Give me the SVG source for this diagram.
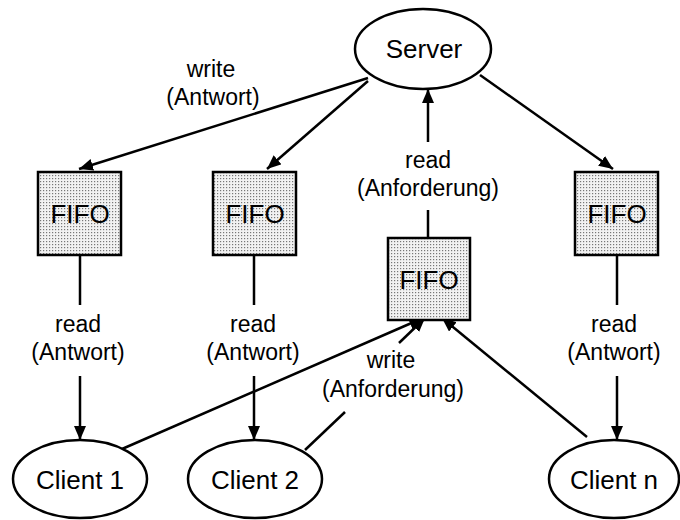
<svg xmlns="http://www.w3.org/2000/svg" width="680" height="520" viewBox="0 0 680 520">
<style>
.node{fill:#fff;stroke:#000;stroke-width:2.5}
.fifo{fill:url(#dots);stroke:#000;stroke-width:2.5}
.ntext{font-family:"Liberation Sans",Arial,sans-serif;font-size:26px;fill:#000;text-anchor:middle}
.lbl{font-family:"Liberation Sans",Arial,sans-serif;font-size:23px;fill:#000;text-anchor:middle}
.edge{fill:none;stroke:#000;stroke-width:2.5}
</style>
<defs>
<pattern id="dots" width="3" height="3" patternUnits="userSpaceOnUse">
<rect width="3" height="3" fill="#f2f2f2"/>
<rect x="1" y="1" width="1.2" height="1.2" fill="#777"/>
</pattern>
<marker id="arr" viewBox="0 0 14 12" refX="14" refY="6" markerWidth="14" markerHeight="12" markerUnits="userSpaceOnUse" orient="auto">
<path d="M0,0 L14,6 L0,12 Z" fill="#000"/>
</marker>
</defs>
<g id="connectors">
<line class="edge" x1="368" y1="78" x2="79" y2="169" marker-end="url(#arr)"/>
<line class="edge" x1="368" y1="81" x2="267" y2="169" marker-end="url(#arr)"/>
<line class="edge" x1="480" y1="75" x2="613" y2="169" marker-end="url(#arr)"/>
<line class="edge" x1="428" y1="238" x2="428" y2="210"/>
<line class="edge" x1="428" y1="142" x2="428" y2="89" marker-end="url(#arr)"/>
<line class="edge" x1="80" y1="255" x2="80" y2="305"/>
<line class="edge" x1="80" y1="376" x2="80" y2="440" marker-end="url(#arr)"/>
<line class="edge" x1="254" y1="255" x2="254" y2="305"/>
<line class="edge" x1="254" y1="376" x2="254" y2="440" marker-end="url(#arr)"/>
<line class="edge" x1="617" y1="255" x2="617" y2="305"/>
<line class="edge" x1="617" y1="376" x2="617" y2="440" marker-end="url(#arr)"/>
<line class="edge" x1="122" y1="449" x2="423" y2="318" marker-end="url(#arr)"/>
<line class="edge" x1="305" y1="450" x2="345" y2="412"/>
<line class="edge" x1="399" y1="343" x2="425" y2="318" marker-end="url(#arr)"/>
<line class="edge" x1="587" y1="437" x2="442" y2="318" marker-end="url(#arr)"/>
</g>
<g id="labels">
<text class="lbl" x="211" y="77">write</text>
<text class="lbl" x="213" y="105">(Antwort)</text>
<text class="lbl" x="428" y="168">read</text>
<text class="lbl" x="428" y="196">(Anforderung)</text>
<text class="lbl" x="78" y="332">read</text>
<text class="lbl" x="78" y="360">(Antwort)</text>
<text class="lbl" x="253" y="332">read</text>
<text class="lbl" x="253" y="360">(Antwort)</text>
<text class="lbl" x="614" y="332">read</text>
<text class="lbl" x="614" y="360">(Antwort)</text>
<text class="lbl" x="391" y="368">write</text>
<text class="lbl" x="393" y="397">(Anforderung)</text>
</g>
<g id="server"><ellipse class="node" cx="423" cy="49" rx="68" ry="40"/><text class="ntext" x="424" y="58">Server</text></g>
<g id="fifo1"><rect class="fifo" x="38" y="172" width="83" height="83"/><text class="ntext" x="80" y="223">FIFO</text></g>
<g id="fifo2"><rect class="fifo" x="213" y="172" width="83" height="83"/><text class="ntext" x="255" y="223">FIFO</text></g>
<g id="fifo3"><rect class="fifo" x="388" y="238" width="82" height="82"/><text class="ntext" x="429" y="289">FIFO</text></g>
<g id="fifo4"><rect class="fifo" x="575" y="172" width="83" height="83"/><text class="ntext" x="617" y="223">FIFO</text></g>
<g id="client1"><ellipse class="node" cx="80" cy="479" rx="67" ry="39"/><text class="ntext" x="80" y="489">Client 1</text></g>
<g id="client2"><ellipse class="node" cx="255" cy="479" rx="67" ry="39"/><text class="ntext" x="255" y="489">Client 2</text></g>
<g id="clientn"><ellipse class="node" cx="614" cy="479" rx="65" ry="39"/><text class="ntext" x="614" y="489">Client n</text></g>
</svg>
